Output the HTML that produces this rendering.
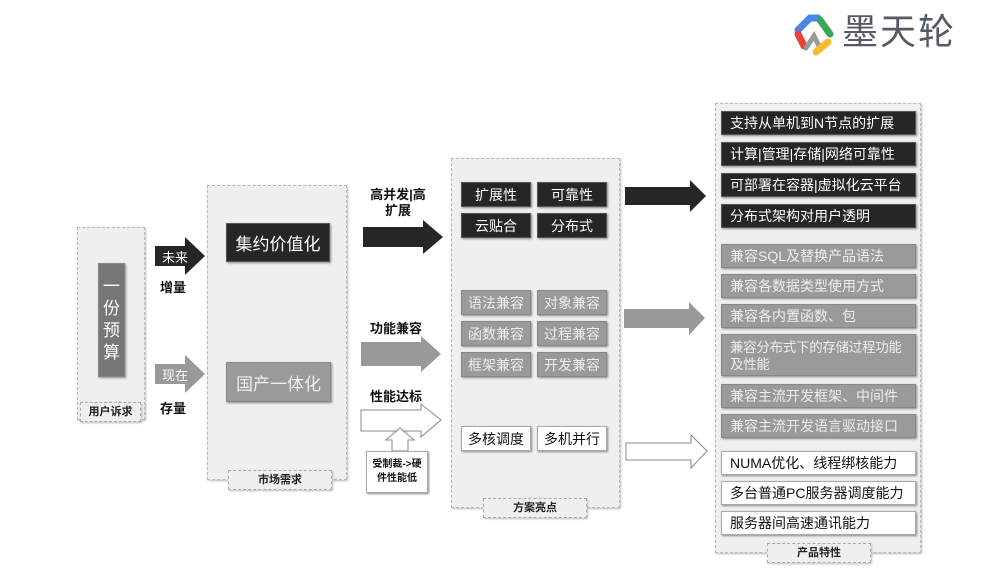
<!DOCTYPE html>
<html><head><meta charset="utf-8"><style>
body{margin:0;width:1000px;height:581px;background:#fff;position:relative;overflow:hidden;font-family:"Liberation Sans","Noto Sans CJK SC",sans-serif;}
.a{position:absolute;box-sizing:border-box;}
.cont{background:#efefef;border:1px dashed #b8b8b8;box-shadow:1px 1px 2px #bbb;}
.lab{background:#efefef;border:1px dashed #aaa;font-size:11px;font-weight:bold;color:#222;text-align:center;box-shadow:1px 1px 2px #bbb;}
.d{background:#262626;color:#fff;border:1px solid #555;box-shadow:1px 1px 2px #888;}
.g{background:#9a9a9a;color:#eee;border:1px solid #888;box-shadow:1px 1px 2px #888;}
.w{background:#fff;color:#111;border:1px solid #aaa;box-shadow:1px 1px 2px #888;}
.t{font-size:14px;display:flex;align-items:center;justify-content:center;}
.r{font-size:14px;display:flex;align-items:center;padding-left:8px;line-height:17px;white-space:nowrap;}
.txt{position:absolute;font-size:13px;font-weight:bold;color:#111;}
</style></head><body>
<!-- logo -->
<svg class="a" style="left:790px;top:8px" width="50" height="50" viewBox="0 0 50 50">
<path d="M8 22 L20 10 L28 10" stroke="#4a86e8" stroke-width="7" fill="none" stroke-linecap="round"/>
<path d="M30 12 L40 26" stroke="#3aa757" stroke-width="7" fill="none" stroke-linecap="round"/>
<path d="M8 26 L14 38" stroke="#e84335" stroke-width="7" fill="none" stroke-linecap="round"/>
<path d="M16 40 L24 28 L30 40" stroke="#999" stroke-width="5" fill="none" stroke-linecap="round"/>
<path d="M26 44 L38 34" stroke="#f9bb2d" stroke-width="7" fill="none" stroke-linecap="round"/>
</svg>
<div class="a" style="left:842px;top:10px;font-size:36px;color:#555a66;letter-spacing:2px;line-height:44px">墨天轮</div>

<!-- user -->
<div class="a cont" style="left:77px;top:227px;width:68px;height:193px"></div>
<div class="a g" style="left:98px;top:263px;width:27px;height:114px;background:#777;color:#fff;font-size:17px;text-align:center;line-height:22px;padding-top:12px">一<br>份<br>预<br>算</div>
<div class="a lab" style="left:80px;top:402px;width:61px;height:20px;line-height:18px">用户诉求</div>

<svg class="a" style="left:0;top:0" width="1000" height="581">
<polygon points="155,246 185,246 185,237 205,256 185,275 185,266 155,266" fill="#262626"/>
<polygon points="155,364 185,364 185,355 205,374 185,393 185,384 155,384" fill="#999"/>
<polygon points="363,227 423,227 423,220 443,237 423,254 423,247 363,247" fill="#262626"/>
<polygon points="361,342 421,342 421,336 441,354 421,372 421,366 361,366" fill="#999"/>
<polygon points="361,410 421,410 421,404 441,420 421,437 421,431 361,431" fill="#fff" stroke="#888"/>
<polygon points="392,451 392,440 386,440 400,428 414,440 408,440 408,451" fill="#fff" stroke="#888"/>
<polygon points="625,187 690,187 690,180 706,196 690,212 690,205 625,205" fill="#262626"/>
<polygon points="624,309 689,309 689,302 705,318 689,335 689,328 624,328" fill="#999"/>
<polygon points="626,443 691,443 691,435 707,451 691,468 691,460 626,460" fill="#fff" stroke="#888"/>
<text x="162" y="262" font-size="13" fill="#fff" font-family="Noto Sans CJK SC">未来</text>
<text x="162" y="380" font-size="13" fill="#fff" font-family="Noto Sans CJK SC">现在</text>
</svg>
<div class="txt" style="left:160px;top:277px">增量</div>
<div class="txt" style="left:160px;top:398px">存量</div>

<!-- market -->
<div class="a cont" style="left:207px;top:185px;width:140px;height:295px"></div>
<div class="a d t" style="left:226px;top:223px;width:104px;height:39px;font-size:17px">集约价值化</div>
<div class="a g t" style="left:226px;top:362px;width:105px;height:40px;font-size:17px">国产一体化</div>
<div class="a lab" style="left:228px;top:470px;width:104px;height:20px;line-height:18px">市场需求</div>

<div class="txt" style="left:367px;top:187px;line-height:16px;text-align:center;width:62px">高并发|高<br>扩展</div>
<div class="txt" style="left:370px;top:318px">功能兼容</div>
<div class="txt" style="left:370px;top:386px">性能达标</div>
<div class="a w" style="left:366px;top:451px;width:62px;height:42px;font-size:10px;font-weight:bold;text-align:center;line-height:14px;padding-top:6px">受制裁->硬<br>件性能低</div>

<!-- solution -->
<div class="a cont" style="left:451px;top:158px;width:169px;height:350px"></div>
<div class="a d t" style="left:461px;top:182px;width:70px;height:25px">扩展性</div>
<div class="a d t" style="left:537px;top:182px;width:70px;height:25px">可靠性</div>
<div class="a d t" style="left:461px;top:213px;width:70px;height:25px">云贴合</div>
<div class="a d t" style="left:537px;top:213px;width:70px;height:25px">分布式</div>
<div class="a g t" style="left:461px;top:290px;width:70px;height:25px">语法兼容</div>
<div class="a g t" style="left:537px;top:290px;width:70px;height:25px">对象兼容</div>
<div class="a g t" style="left:461px;top:321px;width:70px;height:25px">函数兼容</div>
<div class="a g t" style="left:537px;top:321px;width:70px;height:25px">过程兼容</div>
<div class="a g t" style="left:461px;top:352px;width:70px;height:25px">框架兼容</div>
<div class="a g t" style="left:537px;top:352px;width:70px;height:25px">开发兼容</div>
<div class="a w t" style="left:461px;top:426px;width:70px;height:25px">多核调度</div>
<div class="a w t" style="left:537px;top:426px;width:70px;height:25px">多机并行</div>
<div class="a lab" style="left:483px;top:498px;width:104px;height:20px;line-height:18px">方案亮点</div>

<!-- product -->
<div class="a cont" style="left:715px;top:103px;width:206px;height:450px"></div>
<div class="a d r" style="left:721px;top:111px;width:195px;height:24px">支持从单机到N节点的扩展</div>
<div class="a d r" style="left:721px;top:142px;width:195px;height:24px">计算|管理|存储|网络可靠性</div>
<div class="a d r" style="left:721px;top:173px;width:195px;height:24px">可部署在容器|虚拟化云平台</div>
<div class="a d r" style="left:721px;top:204px;width:195px;height:24px">分布式架构对用户透明</div>
<div class="a g r" style="left:721px;top:244px;width:195px;height:24px">兼容SQL及替换产品语法</div>
<div class="a g r" style="left:721px;top:274px;width:195px;height:24px">兼容各数据类型使用方式</div>
<div class="a g r" style="left:721px;top:304px;width:195px;height:24px">兼容各内置函数、包</div>
<div class="a g" style="left:721px;top:334px;width:195px;height:42px;font-size:13.5px;letter-spacing:-0.3px;line-height:17px;padding:4px 0 0 8px;white-space:nowrap">兼容分布式下的存储过程功能<br>及性能</div>
<div class="a g r" style="left:721px;top:384px;width:195px;height:24px">兼容主流开发框架、中间件</div>
<div class="a g r" style="left:721px;top:414px;width:195px;height:24px">兼容主流开发语言驱动接口</div>
<div class="a w r" style="left:721px;top:451px;width:195px;height:24px">NUMA优化、线程绑核能力</div>
<div class="a w r" style="left:721px;top:481px;width:195px;height:24px">多台普通PC服务器调度能力</div>
<div class="a w r" style="left:721px;top:511px;width:195px;height:24px">服务器间高速通讯能力</div>
<div class="a lab" style="left:767px;top:543px;width:104px;height:20px;line-height:18px">产品特性</div>
</body></html>
